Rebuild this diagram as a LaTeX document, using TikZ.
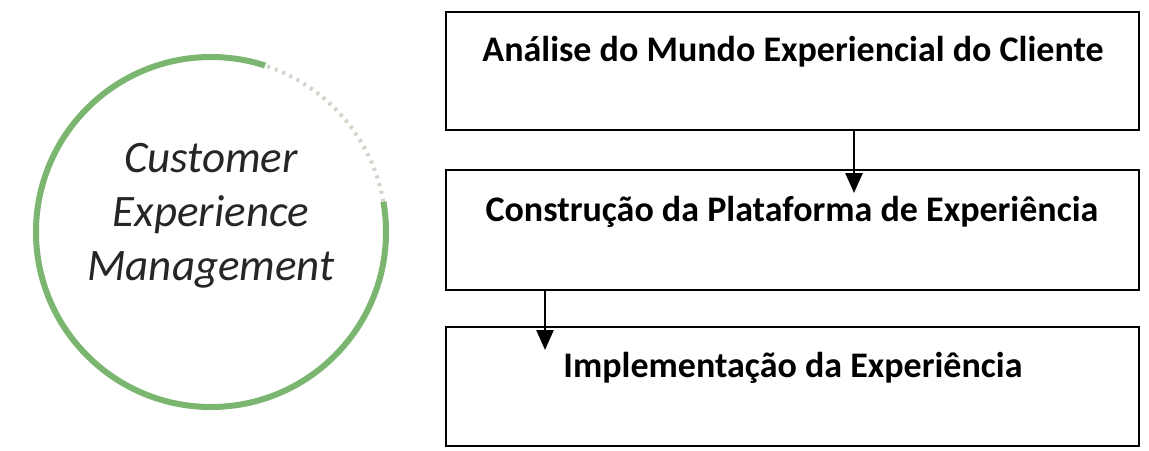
\documentclass[tikz,border=0pt]{standalone}
\usepackage{fontspec}
\setmainfont{Carlito}
\usetikzlibrary{arrows.meta}
\definecolor{ringgreen}{RGB}{122,182,112}
\definecolor{ringpale}{RGB}{205,215,200}
\tikzset{
  stagebox/.style={draw=black, line width=2.6pt, minimum width=693pt, inner sep=0pt},
  stagetext/.style={font=\fontsize{36}{40}\selectfont\bfseries, text=black, inner sep=0pt},
  flow/.style={line width=2.6pt, -{Triangle[width=17pt,length=20pt]}},
  ringtext/.style={font=\fontsize{45}{54}\selectfont\itshape, text=black!85, align=center, inner sep=0pt},
}
\begin{document}
\begin{tikzpicture}[x=1pt,y=-1pt]
\useasboundingbox (0,0) rectangle (1149,450);
% ring
\draw[ringgreen, line width=6pt] (211,232) circle (175);
\draw[white, line width=7.5pt] (211,232) ++(-10:175) arc[start angle=-10, end angle=-72, radius=175];
\draw[ringpale, line width=4pt, dash pattern=on 3pt off 5pt] (211,232) ++(-10:175) arc[start angle=-10, end angle=-72, radius=175];
\node[ringtext] (cem) at (211,216) {Customer\\Experience\\Management};
% boxes
\node[stagebox, minimum height=118pt] (b1) at (792.5,71) {};
\node[stagebox, minimum height=120pt] (b2) at (792.5,230) {};
\node[stagebox, minimum height=119pt] (b3) at (792.5,386.5) {};
\node[stagetext] (t1) at (793,52) {Análise do Mundo Experiencial do Cliente};
\node[stagetext] (t2) at (792,212) {Construção da Plataforma de Experiência};
\node[stagetext] (t3) at (793,368) {Implementação da Experiência};
% arrows
\coordinate (a1s) at (b1.south -| 854,0);
\coordinate (a1e) at (854,193);
\coordinate (a2s) at (b2.south -| 545,0);
\coordinate (a2e) at (545,350);
\draw[flow] (a1s) -- (a1e);
\draw[flow] (a2s) -- (a2e);
\end{tikzpicture}
\end{document}
